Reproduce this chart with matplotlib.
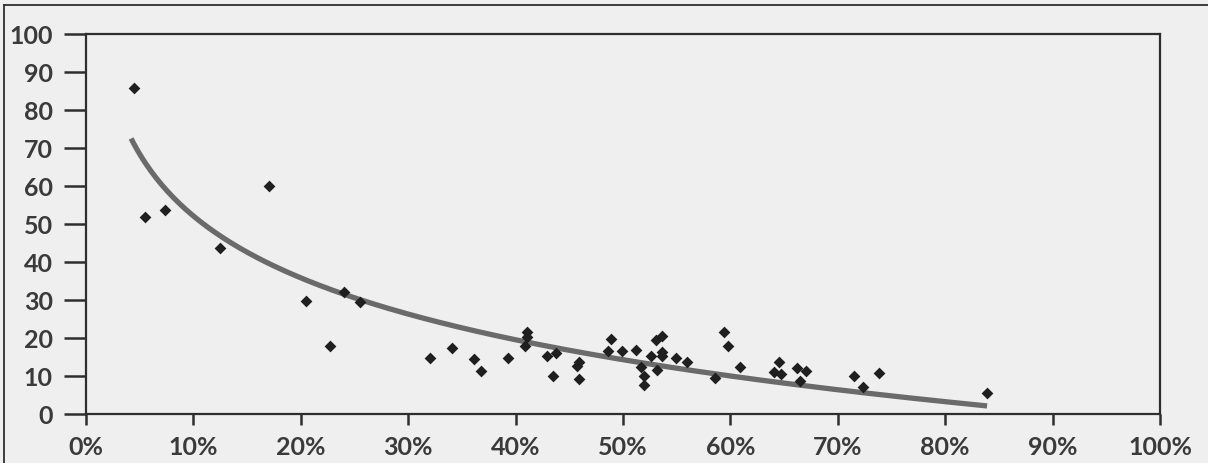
import numpy as np
import matplotlib
matplotlib.use("Agg")
import matplotlib.pyplot as plt
from matplotlib.ticker import FuncFormatter

# --- datos (x en %, y en unidades del eje) ---
share_pct = [4.5, 5.5, 7.4, 12.5, 17.0, 20.5, 22.7, 24.0, 25.5, 32.0,
             34.1, 36.1, 36.8, 39.3, 41.1, 41.1, 40.9, 42.9, 43.8, 43.5,
             45.9, 45.7, 45.9, 48.9, 48.6, 49.9, 51.2, 52.6, 51.7, 52.0,
             52.0, 53.2, 53.1, 53.6, 53.6, 53.6, 54.9, 56.0, 58.6, 59.4,
             59.8, 60.9, 64.1, 64.5, 64.7, 66.2, 67.0, 66.5, 71.5, 72.3,
             73.8, 83.9]
value = [85.8, 51.8, 53.7, 43.7, 60.0, 29.7, 17.9, 32.1, 29.5, 14.7,
         17.4, 14.5, 11.3, 14.7, 21.6, 20.3, 17.9, 15.3, 16.1, 10.0,
         13.7, 12.6, 9.2, 19.7, 16.6, 16.6, 16.8, 15.3, 12.4, 10.0,
         7.6, 11.6, 19.5, 20.5, 16.3, 15.3, 14.7, 13.7, 9.5, 21.6,
         17.9, 12.4, 11.1, 13.7, 10.5, 12.1, 11.3, 8.7, 10.0, 7.1,
         10.8, 5.5]

x_ticks = [0, 10, 20, 30, 40, 50, 60, 70, 80, 90, 100]
y_ticks = [0, 10, 20, 30, 40, 50, 60, 70, 80, 90, 100]

# linea de tendencia logaritmica (y = a + b*ln x), coeficientes
trend_a = -2.0
trend_b = -23.5
trend_x = (0.042, 0.839)

xs = np.linspace(trend_x[0], trend_x[1], 300)
ys = trend_a + trend_b * np.log(xs)

bg = "#efefef"
ink = "#2e2e2e"
plt.rcParams["font.family"] = ["Lato", "DejaVu Sans"]

fig = plt.figure(figsize=(12.08, 4.64), dpi=100, facecolor=bg)
ax = fig.add_axes([86 / 1208, 1 - 415 / 464, (1160 - 86) / 1208, (415 - 35) / 464])
ax.set_facecolor(bg)

ax.plot(xs * 100, ys, color="#6a6a6a", lw=3.8, solid_capstyle="butt", zorder=2)
ax.scatter(share_pct, value, marker="D", s=36, color="#1f1f1f", zorder=3, linewidths=0)

ax.set_xlim(0, 100)
ax.set_ylim(0, 100)
ax.set_xticks(x_ticks)
ax.set_yticks(y_ticks)
ax.xaxis.set_major_formatter(FuncFormatter(lambda v, p: f"{v:.0f}%"))

for s in ax.spines.values():
    s.set_color(ink)
    s.set_linewidth(1.6)
ax.tick_params(axis="y", length=16, width=1.8, color=ink, pad=8,
               labelsize=18, labelcolor="#3a3a3a")
ax.tick_params(axis="x", length=8, width=1.8, color=ink, pad=7,
               labelsize=18, labelcolor="#3a3a3a")
for lab in ax.get_xticklabels() + ax.get_yticklabels():
    lab.set_fontweight("bold")

# marco exterior del recorte (solo arriba e izquierda visibles)
fig.add_artist(plt.Line2D([4 / 1208, 4 / 1208], [0, 1 - 6 / 464], color=ink, lw=1.3))
fig.add_artist(plt.Line2D([4 / 1208, 1], [1 - 6 / 464, 1 - 6 / 464], color=ink, lw=1.3))

fig.savefig("out.png", dpi=100, facecolor=bg)
